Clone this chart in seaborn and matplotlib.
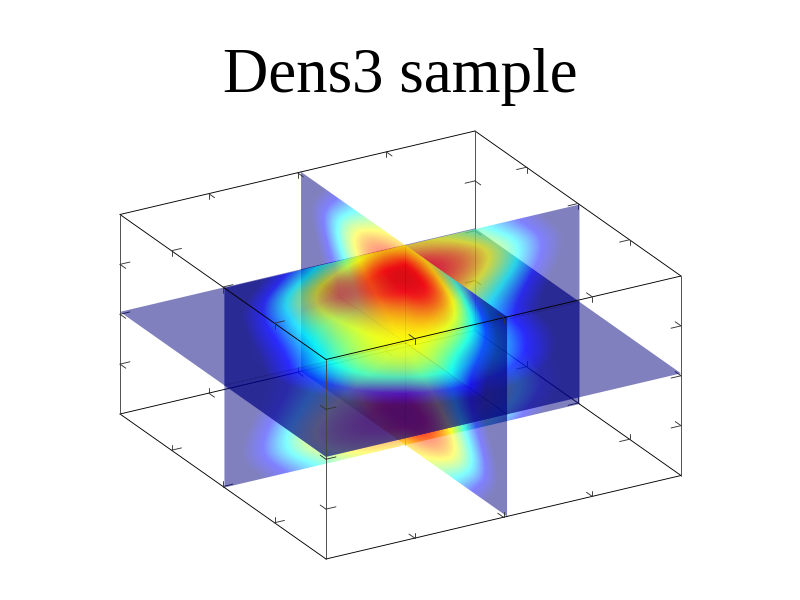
import numpy as np
import matplotlib
matplotlib.use('Agg')
import matplotlib.pyplot as plt
from matplotlib.path import Path
from matplotlib.transforms import Affine2D
import seaborn as sns

TITLE = 'Dens3 sample'
TICK_POSITIONS = [0.25, 0.5, 0.75]

# colour scale of the plot, values below -1 stay dark blue
scale_colors = ['#000080', '#0000ff', '#00ffff', '#ffff00', '#ff0000', '#800000']
value_min, value_max = -1, 1

# values, rows run bottom to top
slice_x = [
    [-1.80, -1.08, -0.52, -0.12, 0.12, 0.20, 0.12, -0.12, -0.52, -1.08, -1.80],
    [-1.34, -0.62, -0.02, 0.40, 0.64, 0.72, 0.64, 0.40, -0.02, -0.62, -1.34],
    [-1.34, -0.62, -0.02, 0.40, 0.64, 0.72, 0.64, 0.40, -0.02, -0.62, -1.34],
    [-1.53, -0.81, -0.25, 0.15, 0.39, 0.47, 0.39, 0.15, -0.25, -0.81, -1.53],
    [-1.72, -1.00, -0.44, -0.04, 0.20, 0.28, 0.20, -0.04, -0.44, -1.00, -1.72],
    [-1.80, -1.08, -0.52, -0.12, 0.12, 0.20, 0.12, -0.12, -0.52, -1.08, -1.80],
    [-1.72, -1.00, -0.44, -0.04, 0.20, 0.28, 0.20, -0.04, -0.44, -1.00, -1.72],
    [-1.53, -0.81, -0.25, 0.15, 0.39, 0.47, 0.39, 0.15, -0.25, -0.81, -1.53],
    [-1.34, -0.62, -0.02, 0.40, 0.64, 0.72, 0.64, 0.40, -0.02, -0.62, -1.34],
    [-1.34, -0.62, -0.02, 0.40, 0.64, 0.72, 0.64, 0.40, -0.02, -0.62, -1.34],
    [-1.80, -1.08, -0.52, -0.12, 0.12, 0.20, 0.12, -0.12, -0.52, -1.08, -1.80],
]
slice_y = [
    [-1.80, -1.08, -0.52, -0.12, 0.12, 0.20, 0.12, -0.12, -0.52, -1.08, -1.80],
    [-1.34, -0.62, -0.02, 0.40, 0.64, 0.72, 0.64, 0.40, -0.02, -0.62, -1.34],
    [-1.34, -0.62, -0.02, 0.40, 0.64, 0.72, 0.64, 0.40, -0.02, -0.62, -1.34],
    [-1.53, -0.81, -0.25, 0.15, 0.39, 0.47, 0.39, 0.15, -0.25, -0.81, -1.53],
    [-1.72, -1.00, -0.44, -0.04, 0.20, 0.28, 0.20, -0.04, -0.44, -1.00, -1.72],
    [-1.80, -1.08, -0.52, -0.12, 0.12, 0.20, 0.12, -0.12, -0.52, -1.08, -1.80],
    [-1.72, -1.00, -0.44, -0.04, 0.20, 0.28, 0.20, -0.04, -0.44, -1.00, -1.72],
    [-1.53, -0.81, -0.25, 0.15, 0.39, 0.47, 0.39, 0.15, -0.25, -0.81, -1.53],
    [-1.34, -0.62, -0.02, 0.40, 0.64, 0.72, 0.64, 0.40, -0.02, -0.62, -1.34],
    [-1.34, -0.62, -0.02, 0.40, 0.64, 0.72, 0.64, 0.40, -0.02, -0.62, -1.34],
    [-1.80, -1.08, -0.52, -0.12, 0.12, 0.20, 0.12, -0.12, -0.52, -1.08, -1.80],
]
slice_z = [
    [-3.80, -3.08, -2.52, -2.12, -1.88, -1.80, -1.88, -2.12, -2.52, -3.08, -3.80],
    [-3.08, -2.36, -1.80, -1.40, -1.16, -1.08, -1.16, -1.40, -1.80, -2.36, -3.08],
    [-2.52, -1.80, -1.24, -0.84, -0.60, -0.52, -0.60, -0.84, -1.24, -1.80, -2.52],
    [-2.12, -1.40, -0.84, -0.44, -0.20, -0.12, -0.20, -0.44, -0.84, -1.40, -2.12],
    [-1.88, -1.16, -0.60, -0.20, 0.04, 0.12, 0.04, -0.20, -0.60, -1.16, -1.88],
    [-1.80, -1.08, -0.52, -0.12, 0.12, 0.20, 0.12, -0.12, -0.52, -1.08, -1.80],
    [-1.88, -1.16, -0.60, -0.20, 0.04, 0.12, 0.04, -0.20, -0.60, -1.16, -1.88],
    [-2.12, -1.40, -0.84, -0.44, -0.20, -0.12, -0.20, -0.44, -0.84, -1.40, -2.12],
    [-2.52, -1.80, -1.24, -0.84, -0.60, -0.52, -0.60, -0.84, -1.24, -1.80, -2.52],
    [-3.08, -2.36, -1.80, -1.40, -1.16, -1.08, -1.16, -1.40, -1.80, -2.36, -3.08],
    [-3.80, -3.08, -2.52, -2.12, -1.88, -1.80, -1.88, -2.12, -2.52, -3.08, -3.80],
]

# screen position of the box: front bottom corner and the three edges from it
ORIGIN = np.array([326.0, 559.0])
EDGE_U = np.array([355.0, -83.5])
EDGE_V = np.array([-206.0, -145.0])
EDGE_W = np.array([0.0, -199.5])
# where the three slices sit inside the box
SLICE_POS = [0.51, 0.493, 0.512]
TICK_LEN = 0.028

# a slice over white is 50% opaque, over another slice about 67%
ALPHA_FIRST = 0.5
ALPHA_OVERLAP = 0.34

sns.set_theme(style='white')
plt.rcParams['font.family'] = ['Liberation Serif', 'DejaVu Serif']
cmap = sns.blend_palette(scale_colors, n_colors=256, as_cmap=True)


def project(p):
    return ORIGIN + p[0] * EDGE_U + p[1] * EDGE_V + p[2] * EDGE_W


def rank(p):
    # painter's order, camera looks from low u, low v, high w
    def near(i, high_is_near):
        if abs(p[i] - SLICE_POS[i]) < 1e-9:
            return 1
        return 2 if (p[i] > SLICE_POS[i]) == high_is_near else 0
    return 9 * near(2, True) + 3 * near(0, False) + near(1, False)


def draw_segment(ax, a, b, **kw):
    a, b = np.array(a, float), np.array(b, float)
    pa, pb = project(a), project(b)
    ax.plot([pa[0], pb[0]], [pa[1], pb[1]], zorder=rank((a + b) / 2) + 0.5, **kw)


def signed_area(poly):
    x, y = np.array(poly).T
    return 0.5 * np.sum(x * np.roll(y, -1) - np.roll(x, -1) * y)


def oriented(poly):
    return poly if signed_area(poly) > 0 else poly[::-1]


def intersect(poly, other):
    # convex clip, both polygons wound the same way
    out = list(poly)
    for i in range(len(other)):
        a, b = other[i], other[(i + 1) % len(other)]
        side = lambda p: (b[0] - a[0]) * (p[1] - a[1]) - (b[1] - a[1]) * (p[0] - a[0])
        src, out = out, []
        for j in range(len(src)):
            p, q = src[j], src[(j + 1) % len(src)]
            sp, sq = side(p), side(q)
            if sp >= 0:
                out.append(p)
            if sp * sq < 0:
                out.append(p + (q - p) * sp / (sp - sq))
        if not out:
            break
    return out


def slice_quadrants(values, axis):
    # one piece per quadrant, so the other slices can sit between them
    values = np.array(values)
    i1, i2 = [i for i in range(3) if i != axis]
    base = np.array([0.0, 0.0, 0.0])
    base[axis] = SLICE_POS[axis]
    edges = [EDGE_U, EDGE_V, EDGE_W]
    e1, e2, o = edges[i1], edges[i2], project(base)
    to_screen = Affine2D.from_values(e1[0], e1[1], e2[0], e2[1], o[0], o[1])
    quads = []
    for lo1, hi1 in ((0.0, SLICE_POS[i1]), (SLICE_POS[i1], 1.0)):
        for lo2, hi2 in ((0.0, SLICE_POS[i2]), (SLICE_POS[i2], 1.0)):
            corners = []
            for s, t in [(lo1, lo2), (hi1, lo2), (hi1, hi2), (lo1, hi2)]:
                p = base.copy()
                p[i1], p[i2] = s, t
                corners.append(p)
            poly = oriented([project(p) for p in corners])
            quads.append(dict(values=values, axis=axis, to_screen=to_screen,
                              poly=poly, order=rank(np.mean(corners, axis=0))))
    return quads


def draw_image(ax, quad, alpha, clip_path, zorder):
    # pixel centres of the first and last cell sit on the slice border
    pad = 0.5 / (quad['values'].shape[0] - 1)
    im = ax.imshow(
        quad['values'], cmap=cmap, vmin=value_min, vmax=value_max,
        alpha=alpha, origin='lower', extent=(-pad, 1 + pad, -pad, 1 + pad),
        aspect='auto', interpolation='bicubic', zorder=zorder,
        transform=quad['to_screen'] + ax.transData,
    )
    im.set_clip_path(clip_path, ax.transData)


def compound_path(polys):
    verts, codes = [], []
    for poly in polys:
        verts += [tuple(p) for p in poly] + [tuple(poly[0])]
        codes += [Path.MOVETO] + [Path.LINETO] * (len(poly) - 1) + [Path.CLOSEPOLY]
    return Path(verts, codes)


fig = plt.figure(figsize=(8, 6), dpi=100)
ax = fig.add_axes([0, 0, 1, 1])

quads = (slice_quadrants(slice_x, 0) + slice_quadrants(slice_y, 1)
         + slice_quadrants(slice_z, 2))
quads.sort(key=lambda q: q['order'])
for i, quad in enumerate(quads):
    draw_image(ax, quad, ALPHA_FIRST, compound_path([quad['poly']]), quad['order'])
    overlaps = []
    for earlier in quads[:i]:
        if earlier['axis'] == quad['axis']:
            continue
        part = intersect(quad['poly'], earlier['poly'])
        if len(part) >= 3 and abs(signed_area(part)) > 1:
            overlaps.append(oriented(part))
    if overlaps:
        draw_image(ax, quad, ALPHA_OVERLAP, compound_path(overlaps), quad['order'] + 0.1)

# box edges, cut in two so each half sorts with its own side of the slices
for axis in range(3):
    others = [i for i in range(3) if i != axis]
    edge_color = '#444444' if axis == 2 else 'black'
    for c1 in (0.0, 1.0):
        for c2 in (0.0, 1.0):
            p = [0.0, 0.0, 0.0]
            p[others[0]], p[others[1]] = c1, c2
            for t0, t1 in [(0.0, SLICE_POS[axis]), (SLICE_POS[axis], 1.0)]:
                a, b = list(p), list(p)
                a[axis], b[axis] = t0, t1
                draw_segment(ax, a, b, color=edge_color, lw=0.65)
            for t in TICK_POSITIONS:
                a = list(p)
                a[axis] = t
                for other, c in ((others[0], c1), (others[1], c2)):
                    b = list(a)
                    b[other] = c + TICK_LEN if c == 0.0 else c - TICK_LEN
                    draw_segment(ax, a, b, color='#333333', lw=0.65)
    # thin line where two slices cross
    p = list(SLICE_POS)
    for t0, t1 in [(0.0, SLICE_POS[axis]), (SLICE_POS[axis], 1.0)]:
        a, b = list(p), list(p)
        a[axis], b[axis] = t0, t1
        draw_segment(ax, a, b, color='black', lw=0.55, alpha=0.4)

ax.text(400, 92, TITLE, ha='center', va='baseline', fontsize=45.3, color='black')

ax.set_xlim(0, 800)
ax.set_ylim(600, 0)
ax.axis('off')

plt.savefig('out.png', dpi=100)
plt.close()
